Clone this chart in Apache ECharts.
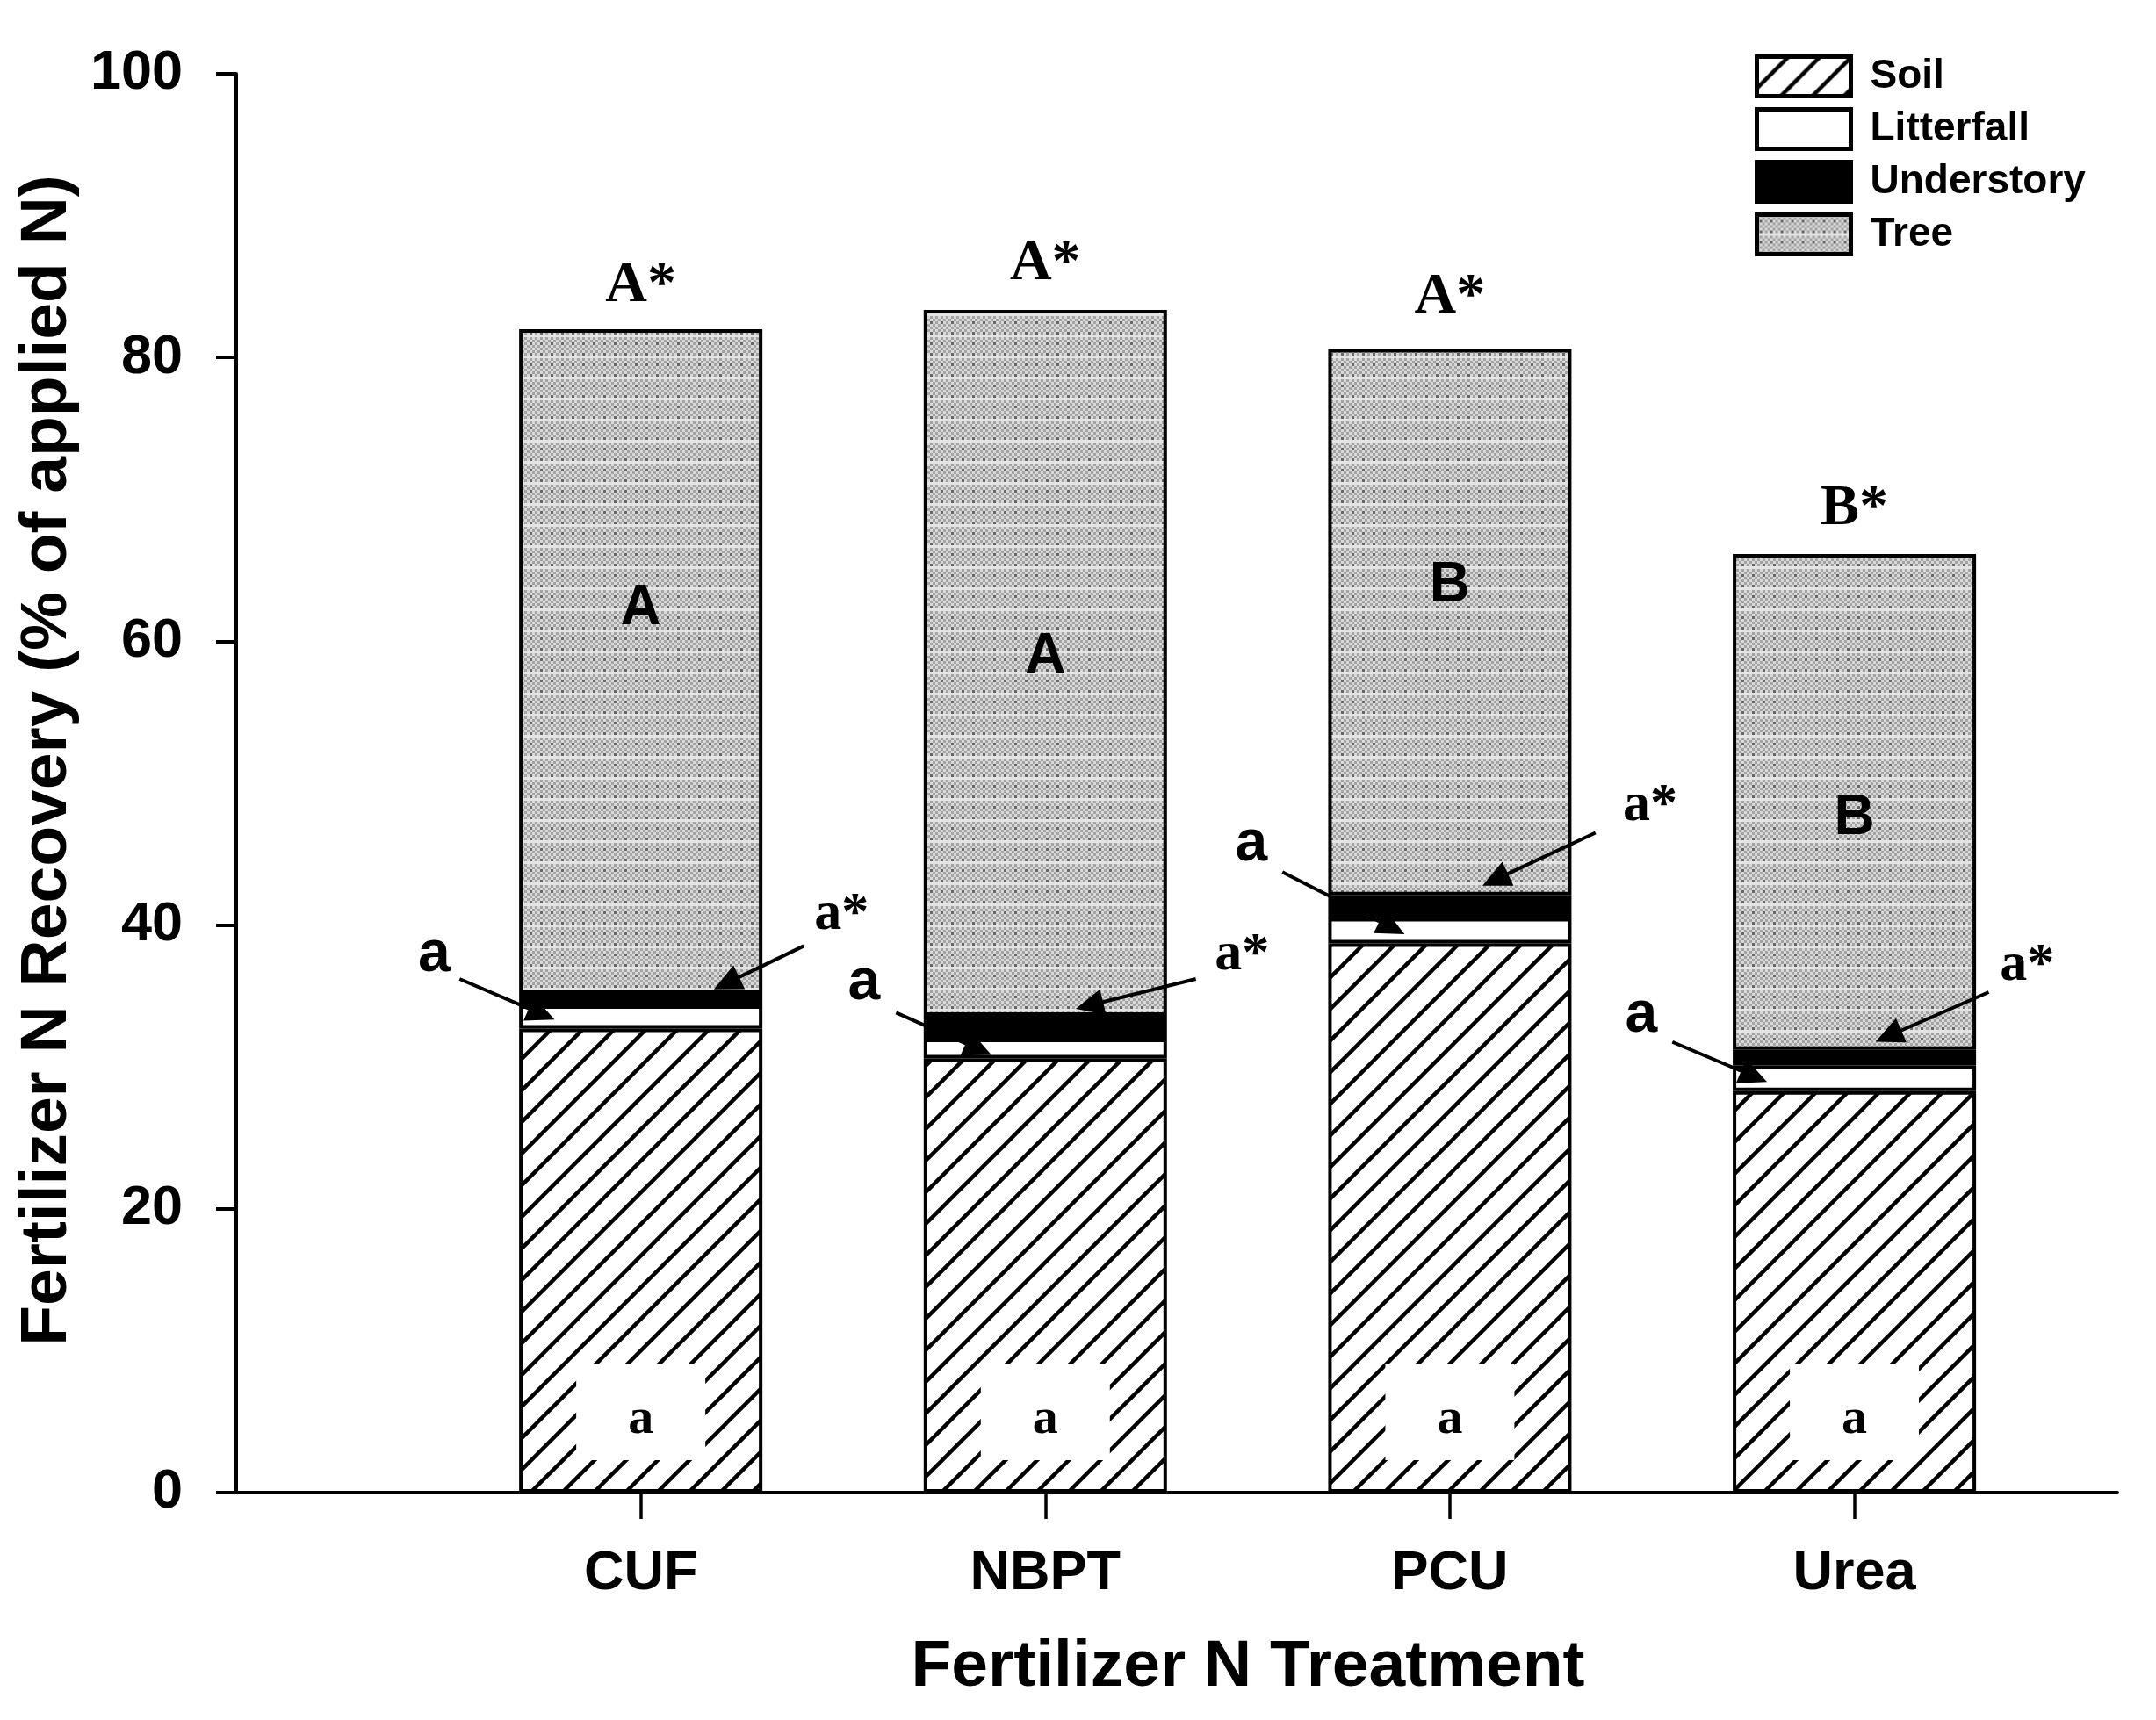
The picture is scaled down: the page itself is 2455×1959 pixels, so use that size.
<!DOCTYPE html>
<html>
<head>
<meta charset="utf-8">
<script src="https://cdn.jsdelivr.net/npm/echarts@6/dist/echarts.min.js"></script>
<style>
html,body{margin:0;padding:0;background:#fff;}
#chart{width:2455px;height:1959px;}
</style>
</head>
<body>
<div id="chart"></div>
<script>
// ---------- data ----------
const categories = ['CUF', 'NBPT', 'PCU', 'Urea'];
const soil       = [32.7, 30.6, 38.7, 28.3];
const litterfall = [1.65, 1.4, 1.8, 1.8];
const understory = [0.8, 1.6, 1.6, 1.1];
const tree       = [46.85, 49.75, 38.5, 34.95];

// letters of significance
const topLetters  = ['A*', 'A*', 'A*', 'B*'];
const topLetterY  = [85.0, 86.6, 84.25, 69.3];
const treeLetters = ['A', 'A', 'B', 'B'];
const treeLetterY = [62.3, 58.9, 63.9, 47.5];
const soilLetters = ['a', 'a', 'a', 'a'];
const soilBoxY    = 5.7;

// litterfall ("a", left) and understory ("a*", right) callouts, data coords
const litterText   = [[0.489, 37.9], [1.552, 35.9], [2.509, 45.7], [3.473, 33.6]];
const litterArrow  = [[[0.552, 36.2], [0.755, 33.73]], [[1.631, 33.83], [1.835, 31.25]],
                      [[2.586, 43.73], [2.857, 39.81]], [[3.55, 31.76], [3.752, 29.33]]];
const underText    = [[1.496, 40.7], [2.486, 37.85], [3.495, 48.4], [4.427, 37.15]];
const underArrow   = [[[1.403, 38.53], [1.212, 35.9]], [[2.372, 36.2], [2.109, 34.34]],
                      [[3.36, 46.5], [3.112, 43.2]], [[4.332, 35.27], [4.084, 32.18]]];

// ---------- patterns ----------
function hatchPattern() {
  const s = 36, c = document.createElement('canvas');
  c.width = s; c.height = s;
  const g = c.getContext('2d');
  g.fillStyle = '#fff'; g.fillRect(0, 0, s, s);
  g.strokeStyle = '#000'; g.lineWidth = 4.5;
  [-s, 0, s].forEach(k => {
    g.beginPath(); g.moveTo(-10, s + 10 + k); g.lineTo(s + 10 + k, -10); g.stroke();
  });
  return c;
}
function treePattern() {
  const cell = 3, n = 8, c = document.createElement('canvas');
  c.width = cell * n; c.height = cell * n;
  const g = c.getContext('2d');
  for (let y = 0; y < n; y++) {
    for (let x = 0; x < n; x++) {
      let v = ((x + y) % 2 === 0) ? 0xd8 : 0xa4;
      if (y === 7) v = 0xe4;
      if (x % 4 === 1 && y % 4 === 2) v = 0x66;
      g.fillStyle = 'rgb(' + v + ',' + v + ',' + v + ')';
      g.fillRect(x * cell, y * cell, cell, cell);
    }
  }
  return c;
}
const hatch = { image: hatchPattern(), repeat: 'repeat' };
const dots  = { image: treePattern(), repeat: 'repeat' };

const SANS = "'Liberation Sans', Arial, sans-serif";
const SERIF = "'Liberation Serif', 'Times New Roman', serif";

const xs = categories.map((c, i) => i + 1);
// [value, position] so that the value dimension is the stacked one
const pairs = arr => arr.map((v, i) => [v, xs[i]]);

function barSeries(name, values, color) {
  return {
    name: name, type: 'bar', stack: 'total', barWidth: 277,
    data: pairs(values),
    encode: { x: 1, y: 0 },
    itemStyle: { color: color, borderColor: '#000', borderWidth: 4 },
    emphasis: { disabled: true }
  };
}

function txt(coord, text, family, size) {
  return {
    coord: coord, symbol: 'rect', symbolSize: 1,
    itemStyle: { color: 'rgba(0,0,0,0)' },
    label: { show: true, position: 'inside', formatter: text, color: '#000',
             fontFamily: family, fontSize: size, fontWeight: 'bold' }
  };
}

const markPts = [];
xs.forEach((x, i) => {
  markPts.push(txt([x, topLetterY[i]], topLetters[i], SERIF, 66));
  markPts.push(txt([x, treeLetterY[i]], treeLetters[i], SANS, 64));
  markPts.push({
    coord: [x, soilBoxY], symbol: 'rect', symbolSize: [147, 110],
    itemStyle: { color: '#fff' },
    label: { show: true, position: 'inside', offset: [0, 9], formatter: soilLetters[i],
             color: '#000', fontFamily: SERIF, fontSize: 58, fontWeight: 'bold' }
  });
  markPts.push(txt(litterText[i], 'a', SANS, 66));
  markPts.push(txt(underText[i], 'a*', SERIF, 62));
});
const markLns = [];
litterArrow.concat(underArrow).forEach(a => {
  markLns.push([{ coord: a[0] }, { coord: a[1] }]);
});

const option = {
  animation: false,
  backgroundColor: '#fff',
  grid: { left: 269, right: 44, top: 84, bottom: 259, containLabel: false },
  legend: {
    data: ['Soil', 'Litterfall', 'Understory', 'Tree'],
    orient: 'vertical', left: 1993, top: 57,
    itemWidth: 107, itemHeight: 45, itemGap: 10,
    icon: 'rect', selectedMode: false,
    itemStyle: { borderWidth: 5 },
    textStyle: { fontFamily: SANS, fontSize: 46, fontWeight: 'bold', color: '#000',
                 padding: [0, 0, 0, 17] }
  },
  xAxis: {
    type: 'value', min: 0, max: 4.65,
    name: 'Fertilizer N Treatment', nameLocation: 'middle', nameGap: 162,
    nameTextStyle: { fontFamily: SANS, fontSize: 75, fontWeight: 'bold', color: '#000',
                     padding: [0, 0, 0, 162] },
    axisLine: { show: true, onZero: false, lineStyle: { color: '#000', width: 4 } },
    axisTick: { show: true, inside: false, length: 30, customValues: xs,
                lineStyle: { color: '#000', width: 3.5 } },
    axisLabel: { show: true, margin: 61, customValues: xs,
                 formatter: v => categories[Math.round(v) - 1] || '',
                 fontFamily: SANS, fontSize: 63, fontWeight: 'bold', color: '#000' },
    splitLine: { show: false }
  },
  yAxis: {
    type: 'value', min: 0, max: 100, interval: 20,
    name: 'Fertilizer N Recovery (% of applied N)', nameLocation: 'middle',
    nameGap: 161, nameRotate: 90,
    nameTextStyle: { fontFamily: SANS, fontSize: 75, fontWeight: 'bold', color: '#000',
                     padding: [0, 0, 0, 52] },
    axisLine: { show: true, lineStyle: { color: '#000', width: 4 } },
    axisTick: { show: true, inside: false, length: 23, lineStyle: { color: '#000', width: 4 } },
    axisLabel: { margin: 61, fontFamily: SANS, fontSize: 63, fontWeight: 'bold', color: '#000' },
    splitLine: { show: false }
  },
  series: [
    barSeries('Soil', soil, hatch),
    barSeries('Litterfall', litterfall, '#ffffff'),
    barSeries('Understory', understory, '#000000'),
    barSeries('Tree', tree, dots),
    {
      name: 'annotations', type: 'scatter', data: [], z: 10, silent: true,
      markPoint: { silent: true, data: markPts, animation: false },
      markLine: {
        silent: true, animation: false,
        symbol: ['none', 'triangle'], symbolSize: [30, 32],
        lineStyle: { color: '#000', width: 4, type: 'solid' },
        itemStyle: { color: '#000' },
        label: { show: false },
        emphasis: { disabled: true },
        data: markLns
      }
    }
  ]
};

const chart = echarts.init(document.getElementById('chart'), null, { renderer: 'canvas' });
chart.setOption(option);
</script>
</body>
</html>
